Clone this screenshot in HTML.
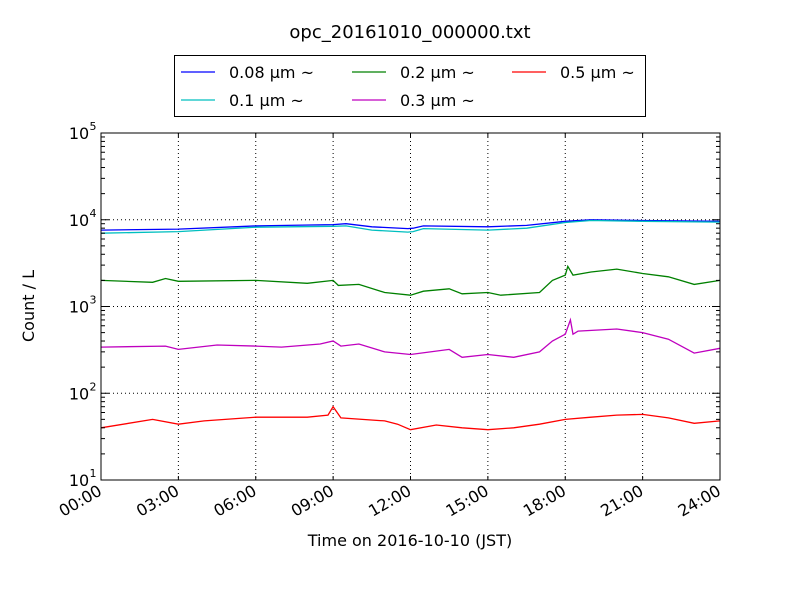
<!DOCTYPE html>
<html><head><meta charset="utf-8"><style>
body{margin:0;background:#fff;}
svg text{font-family:"DejaVu Sans","Liberation Sans",sans-serif;}
</style></head><body>
<svg id="chart" width="800" height="600" xmlns="http://www.w3.org/2000/svg">
<rect width="800" height="600" fill="#fff"/>
<text x="410" y="38" font-size="18" text-anchor="middle">opc_20161010_000000.txt</text>
<g id="grid"></g>
<g id="series"></g>
<rect x="101" y="133" width="619" height="347" fill="none" stroke="#000" stroke-width="1"/>
<g id="axes"></g>
<text transform="translate(34,306) rotate(-90)" font-size="16" text-anchor="middle">Count / L</text>
<text x="410" y="546" font-size="16" text-anchor="middle">Time on 2016-10-10 (JST)</text>
<g id="legend">
<rect x="174.5" y="55.5" width="471" height="61" fill="#fff" stroke="#000"/>
</g>
</svg>
<script>
const xTicks=[0,3,6,9,12,15,18,21,24];
const xTickLabels=["00:00","03:00","06:00","09:00","12:00","15:00","18:00","21:00","24:00"];
const yExps=[1,2,3,4,5];
const seriesNames=["0.08 μm ~","0.1 μm ~","0.2 μm ~","0.3 μm ~","0.5 μm ~"];
const seriesColors=["#0000ff","#00bfbf","#008000","#bf00bf","#ff0000"];
const t08=[0,3,6,9,9.5,10.5,11.9,12.1,12.5,15,16.5,18,19,21,24];
const v08=[7600,7800,8500,8800,9000,8300,7900,8000,8500,8300,8600,9600,10000,9800,9600];
const t01=[0,3,6,9,9.5,10.5,11.9,12.1,12.5,15,16.5,18,19,21,24];
const v01=[7000,7300,8200,8400,8500,7600,7200,7300,7900,7600,8000,9300,9800,9600,9400];
const t02=[0,2,2.5,3,6,8,9,9.2,10,11,12,12.5,13.5,14,15,15.5,17,17.5,18,18.1,18.3,19,20,21,22,23,24];
const v02=[2000,1900,2100,1950,2000,1850,2000,1750,1800,1450,1350,1500,1600,1400,1450,1350,1450,2000,2300,2900,2300,2500,2700,2400,2200,1800,2000];
const t03=[0,2.5,3,4.5,6,7,8.5,9,9.3,10,11,12,13.5,14,15,16,17,17.5,18,18.2,18.3,18.5,20,21,22,23,24];
const v03=[340,350,320,360,350,340,370,400,350,370,300,280,320,260,280,260,300,400,480,700,480,520,550,500,420,290,330];
const t05=[0,2,3,4,6,8,8.8,9,9.3,11,11.5,12,13,14,15,16,17,18,19,20,21,22,23,24];
const v05=[40,50,44,48,53,53,56,70,52,48,44,38,43,40,38,40,44,50,53,56,57,52,45,48];
const seriesT=[t08,t01,t02,t03,t05];
const seriesV=[v08,v01,v02,v03,v05];

const X0=101,X1=720,Y0=480,Y1=133;
const xs=h=>X0+(X1-X0)*h/24;
const ys=v=>Y0-(Y0-Y1)*(Math.log10(v)-1)/4;
const NS="http://www.w3.org/2000/svg";
function mk(tag,attrs,parent){const e=document.createElementNS(NS,tag);for(const k in attrs)e.setAttribute(k,attrs[k]);parent.appendChild(e);return e;}
const grid=document.getElementById('grid'),axes=document.getElementById('axes'),ser=document.getElementById('series'),leg=document.getElementById('legend');

xTicks.forEach((h,i)=>{
  const x=xs(h);
  if(i>0&&i<xTicks.length-1){const g=mk('line',{x1:x,x2:x,y1:Y1,y2:Y0,stroke:'#000','stroke-dasharray':'1,3','stroke-width':1},grid);
  
  }
  mk('line',{x1:x,x2:x,y1:Y0,y2:Y0-4,stroke:'#000'},axes);
  mk('line',{x1:x,x2:x,y1:Y1,y2:Y1+4,stroke:'#000'},axes);
  const t=mk('text',{x:x+2,y:Y0+14,'font-size':16,'text-anchor':'end',transform:`rotate(-30 ${x+2} ${Y0+14})`},axes);
  t.textContent=xTickLabels[i];
  
  
});
yExps.forEach((e,i)=>{
  const y=ys(Math.pow(10,e));
  if(i>0&&i<yExps.length-1){const g=mk('line',{x1:X0,x2:X1,y1:y,y2:y,stroke:'#000','stroke-dasharray':'1,3'},grid);
  
  }
  mk('line',{x1:X0,x2:X0+8,y1:y,y2:y,stroke:'#000'},axes);
  mk('line',{x1:X1,x2:X1-8,y1:y,y2:y,stroke:'#000'},axes);
  if(i<yExps.length-1){for(let m=2;m<10;m++){const yy=ys(m*Math.pow(10,e));
    mk('line',{x1:X0,x2:X0+4,y1:yy,y2:yy,stroke:'#000'},axes);
    mk('line',{x1:X1,x2:X1-4,y1:yy,y2:yy,stroke:'#000'},axes);}}
  const t=mk('text',{x:X0-22,y:y+6,'font-size':16,'text-anchor':'middle'},axes);
  t.textContent='10';
  
  
  const s=mk('text',{x:X0-8,y:y-3,'font-size':11,'text-anchor':'middle'},axes);
  s.textContent=String(e);
});
seriesT.forEach((T,si)=>{
  const d=T.map((h,j)=>(j?'L':'M')+xs(h).toFixed(1)+','+ys(seriesV[si][j]).toFixed(1)).join(' ');
  const p=mk('path',{d:d,fill:'none',stroke:seriesColors[si],'stroke-width':1.3},ser);
  
  
});
const legPos=[[181,72],[181,100],[352,72],[352,100],[512,72]];
seriesNames.forEach((n,i)=>{
  const [lx,ly]=legPos[i];
  mk('line',{x1:lx,x2:lx+34,y1:ly,y2:ly,stroke:seriesColors[i],'stroke-width':1.3},leg);
  const t=mk('text',{x:lx+48,y:ly+6,'font-size':16},leg);
  t.textContent=n;
  
  
});
</script>
</body></html>
